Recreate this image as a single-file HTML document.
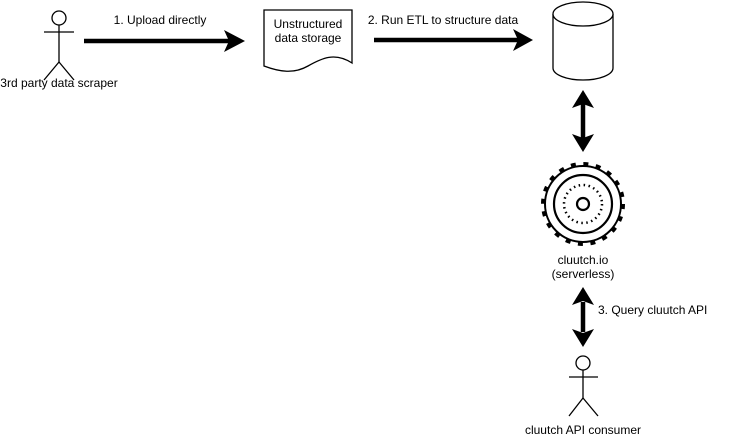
<!DOCTYPE html>
<html><head><style>
body{margin:0;background:#fff;}
svg{display:block;font-family:"Liberation Sans",Arial,sans-serif;font-size:12px;}
</style></head><body>
<svg width="734" height="439" viewBox="0 0 734 439">
<g stroke="#000" fill="none" stroke-width="1.3">
<circle cx="59" cy="18" r="7" fill="#fff"/>
<line x1="59" y1="25" x2="59" y2="62"/>
<line x1="44" y1="32" x2="74" y2="32"/>
<line x1="59" y1="62" x2="44" y2="80"/>
<line x1="59" y1="62" x2="74" y2="80"/>
<path d="M264,10 H352 V63 C335,52 322,58 308,66 C294,74 280,72 264,66 Z" fill="#fff"/>
<path d="M553,14 V68 A30,12 0 0 0 613,68 V14" fill="#fff"/>
<ellipse cx="583" cy="14" rx="30" ry="12" fill="#fff"/>
<circle cx="583" cy="363" r="7" fill="#fff"/>
<line x1="583" y1="370" x2="583" y2="398"/>
<line x1="569" y1="377" x2="598" y2="377"/>
<line x1="583" y1="398" x2="569" y2="416"/>
<line x1="583" y1="398" x2="598" y2="416"/>
</g>
<g stroke="#000" stroke-width="4.5">
<line x1="84" y1="41" x2="230" y2="41"/>
<line x1="374" y1="40" x2="518" y2="40"/>
<line x1="583" y1="104" x2="583" y2="138"/>
<line x1="583" y1="302" x2="583" y2="332"/>
</g>
<g fill="#000">
<polygon points="224,30 245,41 224,52 229,41"/>
<polygon points="513,29 533,40 513,51 518,40"/>
<polygon points="572,108 583,90 594,108 583,104"/>
<polygon points="572,134 583,152 594,134 583,138"/>
<polygon points="572,305 583,287 594,305 583,301"/>
<polygon points="572,329 583,347 594,329 583,333"/>
</g>
<g stroke="#000" fill="none">
<circle cx="583" cy="204" r="40" stroke-width="4" stroke-dasharray="5 7.57"/>
<circle cx="583" cy="204" r="38" stroke-width="2" fill="#fff"/>
<circle cx="583" cy="204" r="29" stroke-width="2.2"/>
<circle cx="583" cy="204" r="19" stroke-dasharray="1.5 3.5" stroke-width="2.5"/>
<circle cx="583" cy="204" r="6" stroke-width="2.2"/>
</g>
<g fill="#000" text-anchor="middle">
<text x="59" y="87">3rd party data scraper</text>
<text x="160" y="24">1. Upload directly</text>
<text x="308" y="28">Unstructured</text>
<text x="308" y="42">data storage</text>
<text x="443" y="24">2. Run ETL to structure data</text>
<text x="583" y="264">cluutch.io</text>
<text x="583" y="278">(serverless)</text>
<text x="583" y="434">cluutch API consumer</text>
<text x="598" y="314" text-anchor="start">3. Query cluutch API</text>
</g>
</svg>
</body></html>
